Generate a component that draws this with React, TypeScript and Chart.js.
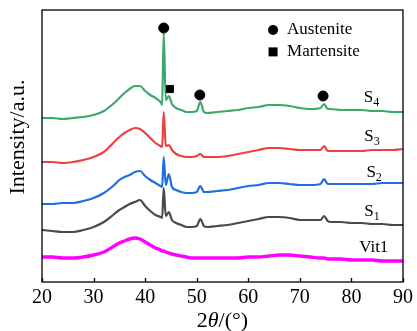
import React, { useEffect, useRef } from "react";
import { Chart, registerables } from "chart.js";

Chart.register(...registerables);

// 2θ (degrees) sampling grid shared by all patterns
const angles = [20, 22, 24, 26, 28, 30, 32, 34, 35, 36, 37, 38, 39, 40, 41, 42, 43, 43.3, 43.6, 44.0, 44.6, 45.2, 46, 47, 48, 49, 50, 50.7, 51.4, 52, 54, 56, 58, 60, 62, 64, 66, 68, 70, 72, 74, 74.7, 75.4, 76, 78, 80, 82, 84, 86, 88, 90];

// stacked (offset) intensities, a.u.
const s4 = [164, 164, 163, 164, 165, 167, 171, 179, 184, 189, 193, 196, 196, 191, 187, 184, 180, 177, 249, 182, 186, 178, 174, 172, 170, 170, 171, 180, 170, 169, 170, 171, 172, 174, 175, 177, 177, 176, 174, 173, 174, 178, 173, 173, 172, 172, 172, 171, 171, 170, 170];
const s3 = [120, 120, 119, 120, 122, 125, 130, 140, 145, 149, 152, 154, 153, 149, 144, 139, 136, 135, 170, 136, 137, 132, 128, 126, 125, 125, 126, 128, 125, 125, 125, 126, 128, 130, 132, 134, 134, 133, 132, 132, 132, 136, 131, 131, 131, 131, 131, 132, 132, 132, 133];
const s2 = [78, 78, 79, 79, 81, 84, 89, 97, 102, 105, 107, 110, 111, 106, 102, 99, 96, 95, 125, 97, 108, 95, 92, 90, 89, 89, 90, 96, 90, 90, 91, 92, 94, 96, 97, 99, 99, 98, 97, 97, 98, 103, 98, 98, 98, 98, 98, 98, 99, 99, 99];
const s1 = [52, 51, 50, 50, 52, 55, 60, 68, 72, 75, 78, 80, 82, 76, 71, 67, 65, 64, 94, 66, 70, 62, 59, 57, 55, 55, 56, 63, 56, 55, 56, 57, 59, 61, 63, 65, 65, 64, 62, 62, 62, 66, 61, 60, 60, 59, 59, 58, 58, 57, 57];
const vit1 = [25, 25, 24, 24, 25, 27, 30, 36, 39, 41, 43, 44, 43, 40, 37, 34, 32, 31, 31, 30, 29, 28, 27, 26, 25, 24, 24, 24, 24, 24, 24, 24, 24, 25, 25, 26, 27, 27, 26, 25, 24, 24, 23, 23, 23, 22, 22, 22, 21, 21, 21];

// phase markers
const austeniteAngles = [43.6, 50.6, 74.5];
const austeniteLevels = [254, 187, 186];
const martensiteAngles = [44.8];
const martensiteLevels = [193];

// curve labels
const seriesNames = ["S4", "S3", "S2", "S1", "Vit1"];
const labelAngles = [82.4, 82.5, 82.9, 82.5, 81.5];
const labelLevels = [184, 145, 109, 70, 34];

const xTickValues = [20, 30, 40, 50, 60, 70, 80, 90];
const legendNames = ["Austenite", "Martensite"];
const yTitle = "Intensity/a.u.";

const SERIF = "'Liberation Serif', 'Times New Roman', serif";

const toXY = (xs: number[], ys: number[]) => xs.map((x, i) => ({ x, y: ys[i] }));

const decorPlugin = {
  id: "decor",
  afterDatasetsDraw(chart: any) {
    const { ctx, chartArea, scales } = chart;
    const { left, right, top, bottom } = chartArea;
    const x = scales.x;
    const y = scales.y;
    ctx.save();
    // frame
    ctx.strokeStyle = "#000";
    ctx.lineWidth = 1.3;
    ctx.strokeRect(left, top, right - left, bottom - top);
    // inward ticks
    xTickValues.forEach((v) => {
      const px = Math.round(x.getPixelForValue(v)) + 0.5;
      ctx.beginPath();
      ctx.moveTo(px, bottom);
      ctx.lineTo(px, bottom - 4);
      ctx.stroke();
    });
    // curve labels
    ctx.fillStyle = "#000";
    ctx.textBaseline = "middle";
    ctx.textAlign = "left";
    seriesNames.forEach((name, i) => {
      const px = x.getPixelForValue(labelAngles[i]);
      const py = y.getPixelForValue(labelLevels[i]);
      if (name.startsWith("S")) {
        ctx.font = `17px ${SERIF}`;
        ctx.fillText("S", px, py);
        const w = ctx.measureText("S").width;
        ctx.font = `12px ${SERIF}`;
        ctx.fillText(name.slice(1), px + w, py + 5);
      } else {
        ctx.font = `17px ${SERIF}`;
        ctx.fillText(name, px, py);
      }
    });
    // legend
    const w = right - left;
    const h = bottom - top;
    const lx = left + 0.64 * w;
    const ly1 = top + 0.0735 * h;
    const ly2 = top + 0.154 * h;
    ctx.beginPath();
    ctx.arc(lx, ly1, 5, 0, Math.PI * 2);
    ctx.fill();
    ctx.fillRect(lx - 4.5, ly2 - 4.5, 9, 9);
    ctx.font = `17px ${SERIF}`;
    ctx.fillText(legendNames[0], lx + 14, ly1);
    ctx.fillText(legendNames[1], lx + 14, ly2);
    // x title: 2θ/(°)
    const parts = [
      { t: "2", f: `22px ${SERIF}` },
      { t: "θ", f: `italic 22px ${SERIF}` },
      { t: "/(°)", f: `22px ${SERIF}` },
    ];
    let total = 0;
    parts.forEach((p) => {
      ctx.font = p.f;
      total += ctx.measureText(p.t).width;
    });
    let cx = (left + right) / 2 - total / 2;
    const ty = bottom + 39;
    parts.forEach((p) => {
      ctx.font = p.f;
      ctx.fillText(p.t, cx, ty);
      cx += ctx.measureText(p.t).width;
    });
    // y title
    ctx.translate(18, top + 0.467 * h);
    ctx.rotate(-Math.PI / 2);
    ctx.textAlign = "center";
    ctx.font = `22px ${SERIF}`;
    ctx.fillText(yTitle, 0, 0);
    ctx.restore();
  },
};

export default function App() {
  const ref = useRef<HTMLCanvasElement | null>(null);
  useEffect(() => {
    if (!ref.current) return;
    const line = (label: string, data: number[], color: string, width: number) => ({
      type: "line" as const,
      label,
      data: toXY(angles, data),
      borderColor: color,
      backgroundColor: color,
      borderWidth: width,
      pointRadius: 0,
      cubicInterpolationMode: "monotone" as const,
      fill: false,
    });
    const chart = new Chart(ref.current, {
      type: "line",
      data: {
        datasets: [
          {
            type: "scatter" as const,
            label: "Austenite",
            data: toXY(austeniteAngles, austeniteLevels),
            pointStyle: "circle",
            pointRadius: 5,
            backgroundColor: "#000",
            borderColor: "#000",
            showLine: false,
          },
          {
            type: "scatter" as const,
            label: "Martensite",
            data: toXY(martensiteAngles, martensiteLevels),
            pointStyle: "rect",
            pointRadius: 5,
            backgroundColor: "#000",
            borderColor: "#000",
            showLine: false,
          },
          line("Vit1", vit1, "#ff00ff", 3.4),
          line("S1", s1, "#4a4a4a", 2.2),
          line("S2", s2, "#1f6fe0", 2.2),
          line("S3", s3, "#ee4040", 2.2),
          line("S4", s4, "#3aaa6a", 2.2),
        ] as any,
      },
      options: {
        animation: false,
        responsive: false,
        maintainAspectRatio: false,
        layout: { padding: { left: 0, right: 11, top: 10, bottom: 0 } },
        plugins: { legend: { display: false }, tooltip: { enabled: false } },
        scales: {
          x: {
            type: "linear",
            min: 20,
            max: 90,
            afterBuildTicks: (s: any) => {
              s.ticks = xTickValues.map((v) => ({ value: v }));
            },
            afterFit: (s: any) => {
              s.height = 49;
            },
            grid: { display: false, drawTicks: false },
            border: { display: false },
            ticks: {
              color: "#000",
              font: { family: SERIF, size: 20 },
              padding: 4,
              maxRotation: 0,
            },
          },
          y: {
            type: "linear",
            min: 0,
            max: 272,
            afterFit: (s: any) => {
              s.width = 42;
            },
            grid: { display: false, drawTicks: false },
            border: { display: false },
            ticks: { display: false },
          },
        },
      },
      plugins: [decorPlugin],
    });
    return () => chart.destroy();
  }, []);
  return (
    <div style={{ position: "fixed", left: 0, top: 0, width: 417, height: 331, background: "#fff" }}>
      <canvas ref={ref} width={417} height={331} style={{ width: 417, height: 331 }} />
    </div>
  );
}
